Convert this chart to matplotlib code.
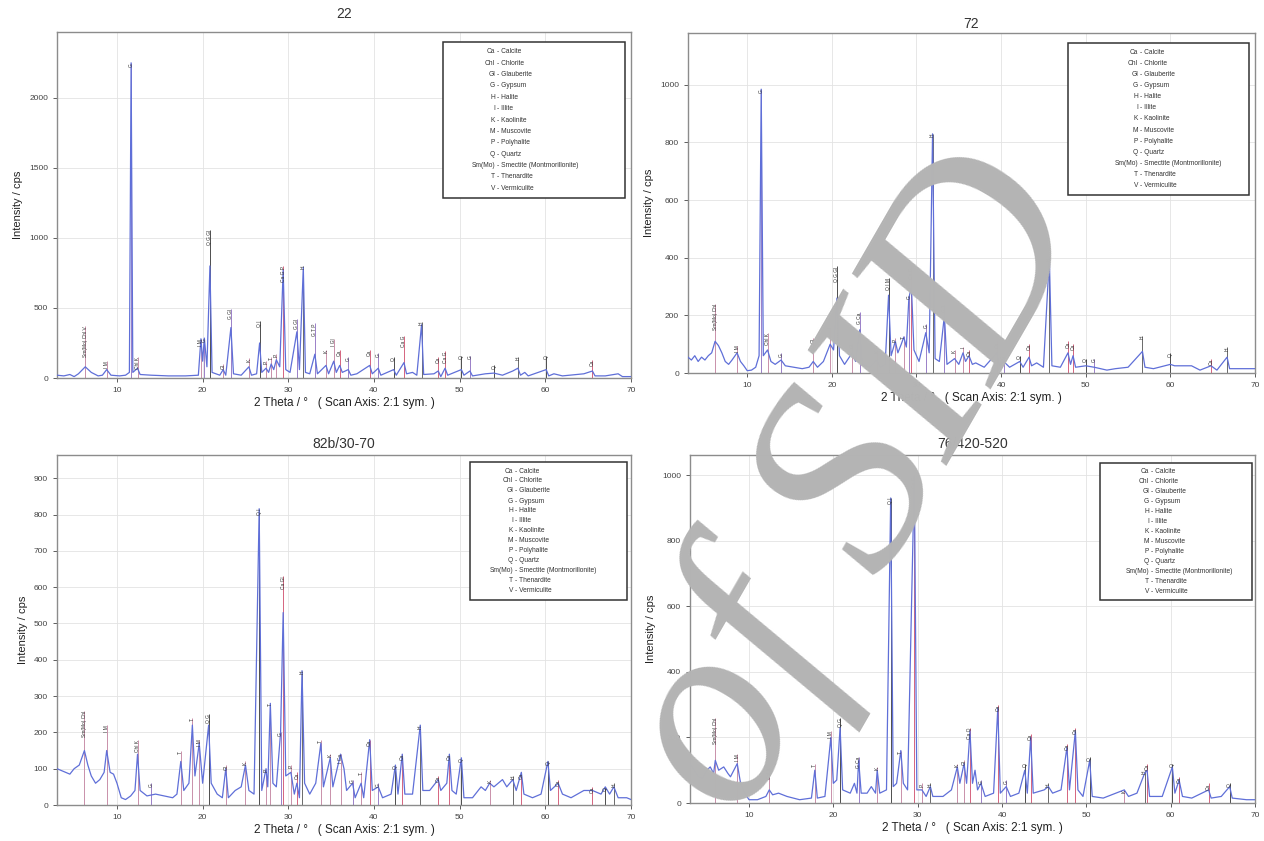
import matplotlib
matplotlib.use("Agg")
import matplotlib.pyplot as plt
from matplotlib.patches import Rectangle

plt.rcParams['font.family'] = ['Liberation Sans', 'DejaVu Sans']

# ---- data ----
phase_codes = ["Ca", "Chl", "Gl", "G", "H", "I", "K", "M", "P", "Q", "Sm(Mo)", "T", "V"]
phase_names = ["Calcite", "Chlorite", "Glauberite", "Gypsum", "Halite", "Illite", "Kaolinite",
               "Muscovite", "Polyhalite", "Quartz", "Smectite (Montmorillonite)", "Thenardite",
               "Vermiculite"]

# sample 22
trace_22 = [(3.0, 20), (3.8, 15), (4.5, 25), (5.0, 10), (5.5, 30), (6.3, 80), (7.0, 40), (7.8, 15),
            (8.3, 20), (8.8, 60), (9.3, 20), (10.3, 15), (11.0, 20), (11.45, 40), (11.65, 2250),
            (11.85, 40), (12.4, 70), (12.7, 25), (14.0, 20), (16.0, 15), (18.0, 15), (19.5, 20),
            (19.8, 280), (20.0, 120), (20.2, 285), (20.5, 80), (20.85, 800), (21.1, 40), (22.0, 20),
            (22.4, 60), (22.7, 20), (23.3, 360), (23.6, 30), (24.5, 20), (25.4, 80), (25.7, 20),
            (26.3, 30), (26.65, 250), (26.9, 40), (27.4, 70), (27.7, 40), (28.0, 100), (28.3, 60),
            (28.6, 130), (29.0, 80), (29.4, 770), (29.7, 60), (30.2, 40), (31.0, 330), (31.3, 60),
            (31.75, 790), (32.0, 40), (32.5, 30), (33.1, 170), (33.4, 30), (34.4, 90), (34.7, 30),
            (35.3, 120), (35.6, 40), (36.0, 90), (36.3, 40), (37.0, 60), (37.3, 20), (38.0, 30),
            (39.5, 90), (39.8, 30), (40.5, 70), (40.8, 20), (42.3, 60), (42.6, 20), (43.5, 110),
            (43.8, 30), (44.5, 40), (45.0, 20), (45.55, 380), (45.8, 25), (47.0, 30), (47.5, 50),
            (47.8, 10), (48.3, 70), (48.6, 20), (50.2, 60), (50.5, 20), (51.2, 50), (51.5, 15),
            (53.0, 30), (54.0, 35), (55.0, 20), (56.2, 50), (56.8, 70), (57.1, 20), (57.6, 40),
            (58.0, 15), (60.1, 60), (60.4, 15), (61.0, 30), (62.0, 15), (64.5, 30), (65.5, 50),
            (65.8, 15), (67.0, 15), (68.5, 30), (69.0, 10), (70.0, 10)]
sticks_22 = [(6.3, 370, "Sm(Mo) Chl V"), (8.8, 120, "I M"), (11.65, 2250, "G"), (12.4, 150, "Chl K"),
             (19.8, 280, "I M"), (20.2, 285, "G"), (20.85, 1060, "Q G Gl"), (22.4, 100, "Gl"),
             (23.3, 490, "G Gl"), (25.4, 140, "K"), (26.65, 410, "Q I"), (27.4, 120, "P"),
             (28.0, 150, "T"), (28.6, 170, "P"), (29.4, 800, "Ca G P"), (31.0, 420, "G Gl"),
             (31.75, 800, "H"), (33.1, 390, "G T P"), (34.4, 200, "K"), (35.3, 280, "I Gl"),
             (36.0, 200, "Ca"), (37.0, 150, "G"), (39.5, 200, "Ca"), (40.5, 180, "G"),
             (42.3, 150, "Q"), (43.5, 300, "Ca G"), (45.55, 400, "H"), (47.5, 150, "Ca"),
             (48.3, 190, "Ca G"), (50.2, 160, "Q"), (51.2, 160, "G"), (54.0, 90, "Q"),
             (56.8, 150, "H"), (60.1, 160, "Q"), (65.5, 130, "Ca")]

# sample 72
trace_72 = [(3.0, 55), (3.4, 45), (3.8, 60), (4.2, 40), (4.6, 55), (5.0, 45), (5.4, 60), (5.8, 70),
            (6.2, 110), (6.6, 95), (7.0, 70), (7.4, 40), (7.8, 30), (8.2, 45), (8.8, 70), (9.2, 40),
            (9.6, 25), (10.0, 8), (10.5, 10), (11.0, 20), (11.4, 60), (11.65, 985), (11.9, 60),
            (12.4, 80), (12.8, 40), (13.3, 30), (14.0, 45), (14.5, 25), (15.5, 20), (16.5, 15),
            (17.3, 20), (17.8, 40), (18.3, 20), (19.0, 40), (19.8, 100), (20.2, 80), (20.6, 260),
            (20.9, 60), (21.5, 30), (22.4, 70), (22.8, 40), (23.3, 150), (23.6, 30), (24.5, 20),
            (25.3, 45), (25.7, 20), (26.3, 30), (26.7, 270), (27.0, 60), (27.5, 110), (27.8, 70),
            (28.2, 100), (28.5, 125), (28.8, 90), (29.1, 260), (29.4, 300), (29.7, 80), (30.3, 40),
            (31.1, 140), (31.5, 70), (31.9, 830), (32.2, 50), (32.7, 40), (33.3, 200), (33.6, 30),
            (34.5, 50), (35.0, 30), (35.5, 70), (35.8, 40), (36.2, 60), (36.6, 30), (37.0, 35),
            (38.0, 20), (39.5, 70), (39.8, 25), (40.3, 40), (41.0, 20), (42.2, 40), (42.6, 20),
            (43.3, 55), (43.6, 25), (44.2, 35), (45.0, 20), (45.7, 400), (46.0, 25), (47.0, 20),
            (47.9, 70), (48.2, 30), (48.5, 60), (48.8, 20), (50.0, 25), (51.0, 20), (52.5, 10),
            (53.5, 15), (55.0, 20), (56.7, 75), (57.0, 20), (58.0, 15), (60.0, 30), (60.5, 25),
            (62.5, 25), (63.5, 10), (64.8, 25), (65.5, 10), (66.7, 55), (67.0, 15), (68.5, 15),
            (70.0, 15)]
sticks_72 = [(6.2, 240, "Sm(Mo) Chl"), (8.8, 95, "I M"), (11.65, 985, "G"), (12.4, 140, "Chl K"),
             (14.0, 70, "G"), (17.8, 120, "Gl"), (19.8, 160, "I"), (20.6, 370, "Q G Gl"),
             (22.4, 105, "Gl"), (23.3, 210, "G Ca"), (25.3, 80, "K"), (26.7, 330, "Q I M"),
             (27.5, 120, "P"), (28.5, 130, "T"), (29.1, 270, "G"), (29.4, 370, "Ca Gl"),
             (31.1, 170, "G"), (31.9, 830, "H"), (33.3, 240, "G T"), (34.5, 80, "K"),
             (35.5, 90, "I"), (36.2, 80, "Ca"), (39.5, 110, "Ca"), (40.3, 60, "G"),
             (42.2, 60, "Q"), (43.3, 100, "Ca"), (45.7, 400, "H"), (47.9, 110, "Ca"),
             (48.5, 100, "Ca"), (50.0, 50, "Q"), (51.0, 50, "G"), (56.7, 130, "H"),
             (60.0, 70, "Q"), (64.8, 50, "Ca"), (66.7, 90, "H")]

# sample 82b/30-70
trace_82b = [(3.0, 100), (3.5, 95), (4.0, 90), (4.5, 85), (5.0, 100), (5.6, 110), (6.2, 150),
             (6.6, 110), (7.0, 80), (7.5, 60), (8.0, 70), (8.5, 90), (8.8, 150), (9.2, 90),
             (9.6, 85), (10.0, 60), (10.5, 20), (11.0, 15), (11.6, 25), (12.1, 40), (12.4, 140),
             (12.7, 40), (13.5, 25), (14.5, 30), (15.5, 25), (16.5, 20), (17.0, 30), (17.45, 120),
             (17.8, 40), (18.4, 60), (18.8, 220), (19.1, 80), (19.6, 170), (20.0, 60), (20.7, 220),
             (21.0, 60), (21.7, 30), (22.3, 20), (22.7, 100), (23.0, 20), (23.8, 40), (24.5, 50),
             (25.0, 110), (25.4, 40), (26.0, 30), (26.6, 816), (26.9, 40), (27.4, 100), (27.6, 50),
             (27.9, 280), (28.2, 60), (28.6, 50), (29.1, 200), (29.4, 530), (29.7, 80), (30.3, 90),
             (30.7, 30), (31.0, 60), (31.3, 20), (31.6, 370), (31.9, 60), (32.5, 30), (33.2, 60),
             (33.8, 170), (34.1, 50), (34.9, 130), (35.2, 50), (36.1, 140), (36.5, 100), (36.8, 40),
             (37.5, 60), (37.8, 20), (38.5, 60), (38.8, 20), (39.5, 180), (39.8, 40), (40.5, 50),
             (41.0, 20), (42.0, 30), (42.5, 110), (42.8, 30), (43.3, 140), (43.6, 30), (44.5, 30),
             (45.4, 220), (45.7, 40), (46.5, 40), (47.5, 70), (47.8, 40), (48.5, 60), (48.8, 140),
             (49.1, 40), (49.6, 30), (50.2, 130), (50.5, 20), (51.5, 20), (52.5, 50), (53.0, 40),
             (53.5, 60), (54.0, 50), (55.0, 70), (55.5, 50), (56.2, 70), (56.6, 40), (57.2, 90),
             (57.5, 30), (58.5, 20), (59.5, 30), (60.3, 120), (60.6, 40), (61.5, 60), (62.0, 30),
             (63.0, 20), (64.5, 40), (65.5, 40), (66.5, 30), (67.0, 50), (67.5, 30), (68.0, 50),
             (68.5, 20), (69.5, 20), (70.0, 15)]
sticks_82b = [(6.2, 260, "Sm(Mo) Chl"), (8.8, 220, "I M"), (12.4, 180, "Chl K"), (14.0, 60, "G"),
              (17.45, 150, "T"), (18.8, 240, "T"), (19.6, 180, "I M"), (20.7, 250, "Q G"),
              (22.7, 110, "Gl"), (25.0, 120, "K"), (26.6, 816, "Q I"), (27.4, 100, "P"),
              (27.9, 280, "T"), (29.1, 200, "G"), (29.4, 630, "Ca Gl"), (30.3, 110, "P"),
              (31.0, 90, "Ca"), (31.6, 370, "H"), (33.8, 180, "T"), (34.9, 140, "K"),
              (36.1, 140, "I Ca"), (37.5, 70, "G"), (38.5, 90, "T"), (39.5, 180, "Ca"),
              (40.5, 60, "G"), (42.5, 110, "Q"), (43.3, 140, "Ca"), (45.4, 220, "H"),
              (47.5, 80, "Ca"), (48.8, 140, "Ca"), (50.2, 130, "Q"), (53.5, 70, "K"),
              (56.2, 80, "H"), (57.2, 90, "Ca"), (60.3, 120, "Q"), (61.5, 70, "Ca"),
              (65.5, 50, "Ca"), (67.0, 50, "Q"), (68.0, 60, "H")]

# sample 76/420-520
trace_76 = [(3.0, 120), (3.5, 100), (4.0, 80), (4.5, 75), (5.0, 100), (5.4, 110), (5.8, 90),
            (6.0, 130), (6.4, 100), (7.0, 110), (7.5, 90), (7.8, 80), (8.2, 100), (8.6, 120),
            (9.0, 60), (9.5, 30), (10.0, 10), (11.0, 10), (12.0, 20), (12.4, 40), (12.8, 25),
            (13.5, 30), (14.5, 20), (16.0, 10), (17.4, 15), (17.8, 100), (18.1, 15), (19.0, 20),
            (19.7, 200), (20.0, 60), (20.4, 70), (20.8, 230), (21.1, 40), (22.0, 30), (22.5, 60),
            (22.8, 30), (23.0, 130), (23.3, 30), (24.0, 30), (24.5, 50), (25.0, 30), (25.2, 100),
            (25.5, 30), (26.3, 40), (26.8, 930), (27.1, 50), (27.5, 60), (28.0, 160), (28.3, 60),
            (28.8, 40), (29.6, 1000), (29.9, 40), (30.5, 40), (31.0, 20), (31.5, 50), (31.8, 20),
            (33.0, 20), (34.0, 40), (34.7, 110), (35.0, 60), (35.5, 120), (35.8, 60), (36.2, 220),
            (36.5, 60), (36.8, 100), (37.1, 40), (37.5, 60), (38.0, 20), (39.0, 30), (39.5, 290),
            (39.8, 30), (40.5, 50), (41.0, 20), (42.0, 30), (42.7, 100), (43.0, 30), (43.4, 200),
            (43.7, 30), (45.0, 40), (45.5, 50), (46.0, 30), (47.0, 40), (47.7, 170), (48.0, 40),
            (48.7, 220), (49.0, 40), (49.6, 20), (50.4, 130), (50.7, 20), (52.0, 15), (53.5, 30),
            (54.5, 40), (55.0, 20), (56.0, 30), (56.9, 90), (57.2, 100), (57.5, 20), (59.0, 20),
            (60.2, 110), (60.5, 30), (61.0, 70), (61.4, 20), (62.5, 15), (64.5, 40), (64.8, 15),
            (66.0, 20), (67.0, 50), (67.3, 15), (69.0, 10), (70.0, 10)]
sticks_76 = [(6.0, 260, "Sm(Mo) Chl"), (8.6, 150, "I M"), (12.4, 110, "Chl K"), (17.8, 120, "T"),
             (19.7, 220, "I M"), (20.8, 260, "Q G"), (23.0, 140, "G Ca"), (25.2, 110, "K"),
             (26.8, 930, "Q I"), (28.0, 160, "T"), (29.6, 1000, "Ca Gl"), (30.5, 60, "P"),
             (31.5, 60, "H"), (34.7, 120, "K"), (35.5, 130, "Gl"), (36.2, 230, "Ca Q"),
             (37.5, 70, "G"), (39.5, 300, "Ca"), (40.5, 70, "G"), (42.7, 120, "Q"),
             (43.4, 210, "Ca"), (45.5, 60, "H"), (47.7, 180, "Ca"), (48.7, 230, "Ca"),
             (50.4, 140, "Q"), (54.5, 40, "K"), (56.9, 100, "H"), (57.2, 120, "Ca"),
             (60.2, 120, "Q"), (61.0, 80, "Ca"), (64.5, 60, "Ca"), (67.0, 60, "Q")]

titles = ["22", "72", "82b/30-70", "76/420-520"]
traces = [trace_22, trace_72, trace_82b, trace_76]
sticks = [sticks_22, sticks_72, sticks_82b, sticks_76]
y_max = [2470, 1180, 964, 1061]
y_step = [500, 200, 100, 200]

# ---- layout (figure pixels, 1264 x 841) ----
W, H = 1264, 841
axes_px = [(57, 32, 631, 378), (688, 33, 1255, 373), (57, 455, 631, 805), (690, 455, 1255, 803)]
legend_px = [(443, 42, 625, 198), (1068, 43, 1249, 195), (470, 462, 627, 600), (1100, 463, 1252, 600)]
legend_dash = [497, 1140, 515, 1151]
title_pad = [10, 3.5, 5, 5]

trace_color = '#5f6fd8'
phase_color = {'Q': '#4d4d4d', 'H': '#6a6a6a', 'G': '#9a80c8', 'Ca': '#d5647f'}
other_color = '#c990aa'

fig = plt.figure(figsize=(W / 100, H / 100), dpi=100)

for i in range(4):
    x0, y0, x1, y1 = axes_px[i]
    ax = fig.add_axes([x0 / W, 1 - y1 / H, (x1 - x0) / W, (y1 - y0) / H])

    xs = [p[0] for p in traces[i]]
    ys = [p[1] for p in traces[i]]

    for sx, sh, lab in sticks[i]:
        col = phase_color.get(lab.split()[0], other_color)
        ax.vlines(sx, 0, sh, color=col, lw=0.7, zorder=2)
        ax.text(sx, sh, lab, rotation=90, ha='center', va='top', fontsize=3.5,
                color='#333333', zorder=4)

    ax.plot(xs, ys, color=trace_color, lw=0.9, zorder=3)

    ax.set_xlim(3, 70)
    ax.set_ylim(0, y_max[i])
    ax.set_xticks(range(10, 71, 10))
    ax.set_yticks(range(0, y_max[i], y_step[i]))
    ax.tick_params(labelsize=6, length=3, width=0.6, colors='#444444')
    ax.grid(True, color='#e3e3e3', lw=0.6)
    ax.set_axisbelow(True)
    for sp in ax.spines.values():
        sp.set_color('#8c8c8c')
        sp.set_linewidth(1.0)

    ax.set_title(titles[i], fontsize=10, color='#333333', pad=title_pad[i])
    ax.set_xlabel('2 Theta / °   ( Scan Axis: 2:1 sym. )', fontsize=8.5, color='#222222', labelpad=2)
    ax.set_ylabel('Intensity / cps', fontsize=8, color='#222222', labelpad=4)

    # phase legend box
    lx0, ly0, lx1, ly1 = legend_px[i]
    fig.patches.append(Rectangle((lx0 / W, 1 - ly1 / H), (lx1 - lx0) / W, (ly1 - ly0) / H,
                                 transform=fig.transFigure, facecolor='white',
                                 edgecolor='#333333', lw=1.1, zorder=5))
    n = len(phase_codes)
    row_h = (ly1 - ly0 - 8) / n
    for k in range(n):
        ty = 1 - (ly0 + 4 + row_h * (k + 0.5)) / H
        fig.text((legend_dash[i] - 2) / W, ty, phase_codes[k], ha='right', va='center',
                 fontsize=4.8, color='#333333', zorder=6)
        fig.text((legend_dash[i]) / W, ty, '- ' + phase_names[k], ha='left', va='center',
                 fontsize=4.8, color='#333333', zorder=6)

# watermark
fig.text(858 / W, 1 - 487 / H, 'of SID', fontsize=195, family='Liberation Serif', style='italic',
         color='#b4b4b4', rotation=60, ha='center', va='center', rotation_mode='anchor', zorder=10)

fig.savefig('out.png', dpi=100)
